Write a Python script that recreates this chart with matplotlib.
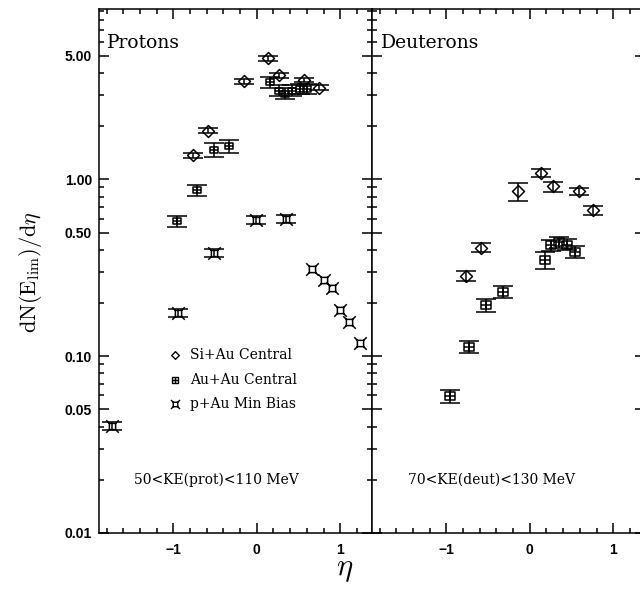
import numpy as np
import matplotlib
matplotlib.use("Agg")
import matplotlib.pyplot as plt
from matplotlib.path import Path
from matplotlib.ticker import FixedLocator, MultipleLocator, NullFormatter, FixedFormatter

plt.rcParams['mathtext.fontset'] = 'cm'

# ---------------- data ----------------
# Protons (left panel)
eta_siau_p = [-0.76, -0.59, -0.15, 0.13, 0.27, 0.57, 0.75]
dn_siau_p = [1.37, 1.89, 3.58, 4.84, 3.87, 3.65, 3.30]
err_siau_p = [0.03, 0.03, 0.03, 0.03, 0.03, 0.03, 0.03]

eta_auau_p = [-0.96, -0.72, -0.51, -0.33, 0.16, 0.27, 0.34, 0.42, 0.52, 0.60]
dn_auau_p = [0.58, 0.867, 1.47, 1.54, 3.55, 3.18, 3.06, 3.18, 3.25, 3.25]
err_auau_p = [0.07, 0.07, 0.09, 0.09, 0.07, 0.07, 0.07, 0.07, 0.07, 0.07]

eta_pau_p = [-1.74, -0.94, -0.51, -0.01, 0.35]
dn_pau_p = [0.0404, 0.175, 0.384, 0.59, 0.60]
err_pau_p = [0.05, 0.05, 0.05, 0.05, 0.05]
eta_pau_p2 = [0.66, 0.80, 0.90, 1.00, 1.11, 1.24]
dn_pau_p2 = [0.313, 0.271, 0.244, 0.182, 0.156, 0.118]

# Deuterons (right panel)
eta_siau_d = [-0.77, -0.59, -0.14, 0.14, 0.28, 0.59, 0.76]
dn_siau_d = [0.284, 0.411, 0.855, 1.09, 0.913, 0.855, 0.668]
err_siau_d = [0.067, 0.056, 0.12, 0.056, 0.065, 0.046, 0.056]

eta_auau_d = [-0.96, -0.73, -0.52, -0.32, 0.18, 0.25, 0.35, 0.45, 0.54]
dn_auau_d = [0.0597, 0.113, 0.194, 0.231, 0.352, 0.424, 0.442, 0.428, 0.389]
err_auau_d = [0.085, 0.08, 0.08, 0.08, 0.11, 0.07, 0.07, 0.07, 0.08]

ytick_vals = [0.01, 0.05, 0.10, 0.50, 1.00, 5.00]
ytick_labels = ["0.01", "0.05", "0.10", "0.50", "1.00", "5.00"]
xtick_vals = [-1, 0, 1]
xtick_labels = ["\u22121", "0", "1"]

# ---------------- markers ----------------
M, L, C = Path.MOVETO, Path.LINETO, Path.CLOSEPOLY
diamond = Path([(0, 1), (1, 0), (0, -1), (-1, 0), (0, 1)], [M, L, L, L, C])
sqcross = Path([(-1, -0.8), (1, -0.8), (1, 0.8), (-1, 0.8), (-1, -0.8),
                (-1, 0), (1, 0), (0, -0.8), (0, 0.8)],
               [M, L, L, L, C, M, L, M, L])
s = 0.5
starsq = Path([(-s, -s), (s, -s), (s, s), (-s, s), (-s, -s),
               (s, s), (1, 1), (-s, s), (-1, 1), (-s, -s), (-1, -1), (s, -s), (1, -1)],
              [M, L, L, L, C, M, L, M, L, M, L, M, L])

LW = 1.1


def series(ax, x, y, frac, marker, ms, capsize=7):
    x = np.asarray(x); y = np.asarray(y)
    if frac is not None:
        ax.errorbar(x, y, yerr=y * np.asarray(frac), fmt='none', ecolor='k',
                    elinewidth=LW, capsize=capsize, capthick=LW)
    ax.plot(x, y, ls='none', marker=marker, ms=ms, mfc='none', mec='k', mew=LW)


fig = plt.figure(figsize=(6.40, 5.98), dpi=100)
axL = fig.add_axes([99 / 640, 65 / 598, 273 / 640, 524 / 598])
axR = fig.add_axes([372 / 640, 65 / 598, 273 / 640, 524 / 598])

for ax in (axL, axR):
    ax.set_yscale('log')
    ax.set_xlim(-1.89, 1.38)
    ax.set_ylim(0.01, 9.2)
    ax.yaxis.set_major_locator(FixedLocator(ytick_vals))
    minors = [m * 10.0 ** e for e in (-2, -1, 0) for m in (2, 3, 4, 6, 7, 8, 9)]
    ax.yaxis.set_minor_locator(FixedLocator(minors))
    ax.yaxis.set_minor_formatter(NullFormatter())
    ax.xaxis.set_major_locator(FixedLocator(xtick_vals))
    ax.xaxis.set_major_formatter(FixedFormatter(xtick_labels))
    ax.xaxis.set_minor_locator(MultipleLocator(0.2))
    ax.tick_params(which='both', direction='in', top=True, right=True, width=LW)
    ax.tick_params(which='major', length=7, pad=7)
    ax.tick_params(which='minor', length=3.5)
    for sp in ax.spines.values():
        sp.set_linewidth(LW)
    for lab in ax.get_xticklabels():
        lab.set_fontweight('bold'); lab.set_fontsize(10); lab.set_family('Liberation Sans')

axL.yaxis.set_major_formatter(FixedFormatter(ytick_labels))
for lab in axL.get_yticklabels():
    lab.set_fontweight('bold'); lab.set_fontsize(10); lab.set_family('Liberation Sans')
axL.tick_params(axis='y', which='major', pad=5)
axR.tick_params(axis='y', labelleft=False)

# Protons
series(axL, eta_siau_p, dn_siau_p, err_siau_p, diamond, 8.6)
series(axL, eta_auau_p, dn_auau_p, err_auau_p, sqcross, 6.0)
series(axL, eta_pau_p, dn_pau_p, err_pau_p, starsq, 9.0)
series(axL, eta_pau_p2, dn_pau_p2, None, starsq, 9.0)

# Deuterons
series(axR, eta_siau_d, dn_siau_d, err_siau_d, diamond, 8.6)
series(axR, eta_auau_d, dn_auau_d, err_auau_d, sqcross, 7.2)

# texts
axL.text(0.03, 0.935, "Protons", transform=axL.transAxes, fontsize=13.5,
         family='DejaVu Serif', va='center', ha='left')
axR.text(0.033, 0.935, "Deuterons", transform=axR.transAxes, fontsize=13.5,
         family='DejaVu Serif', va='center', ha='left')
axL.text(0.128, 0.101, "50<KE(prot)<110 MeV", transform=axL.transAxes, fontsize=10,
         family='DejaVu Serif', va='center', ha='left')
axR.text(0.132, 0.101, "70<KE(deut)<130 MeV", transform=axR.transAxes, fontsize=10,
         family='DejaVu Serif', va='center', ha='left')

# legend
leg_names = ["Si+Au Central", "Au+Au Central", "p+Au Min Bias"]
leg_markers = [(diamond, 5.5), (sqcross, 5.0), (starsq, 6.5)]
leg_y = [0.34, 0.292, 0.246]
for name, (mk, ms), yy in zip(leg_names, leg_markers, leg_y):
    axL.plot([0.278], [yy], transform=axL.transAxes, marker=mk, ms=ms, mfc='none',
             mec='k', mew=1.0, ls='none', clip_on=False)
    axL.text(0.333, yy, name, transform=axL.transAxes, fontsize=10,
             family='DejaVu Serif', va='center', ha='left')

fig.text(30 / 640, 1 - 272 / 598, r'$\mathrm{dN(E_{lim})/d}\eta$', rotation=90,
         fontsize=16, ha='center', va='center')
fig.text(345 / 640, 1 - 570 / 598, r'$\eta$', fontsize=22, ha='center', va='center')

fig.savefig("out.png", dpi=100)
